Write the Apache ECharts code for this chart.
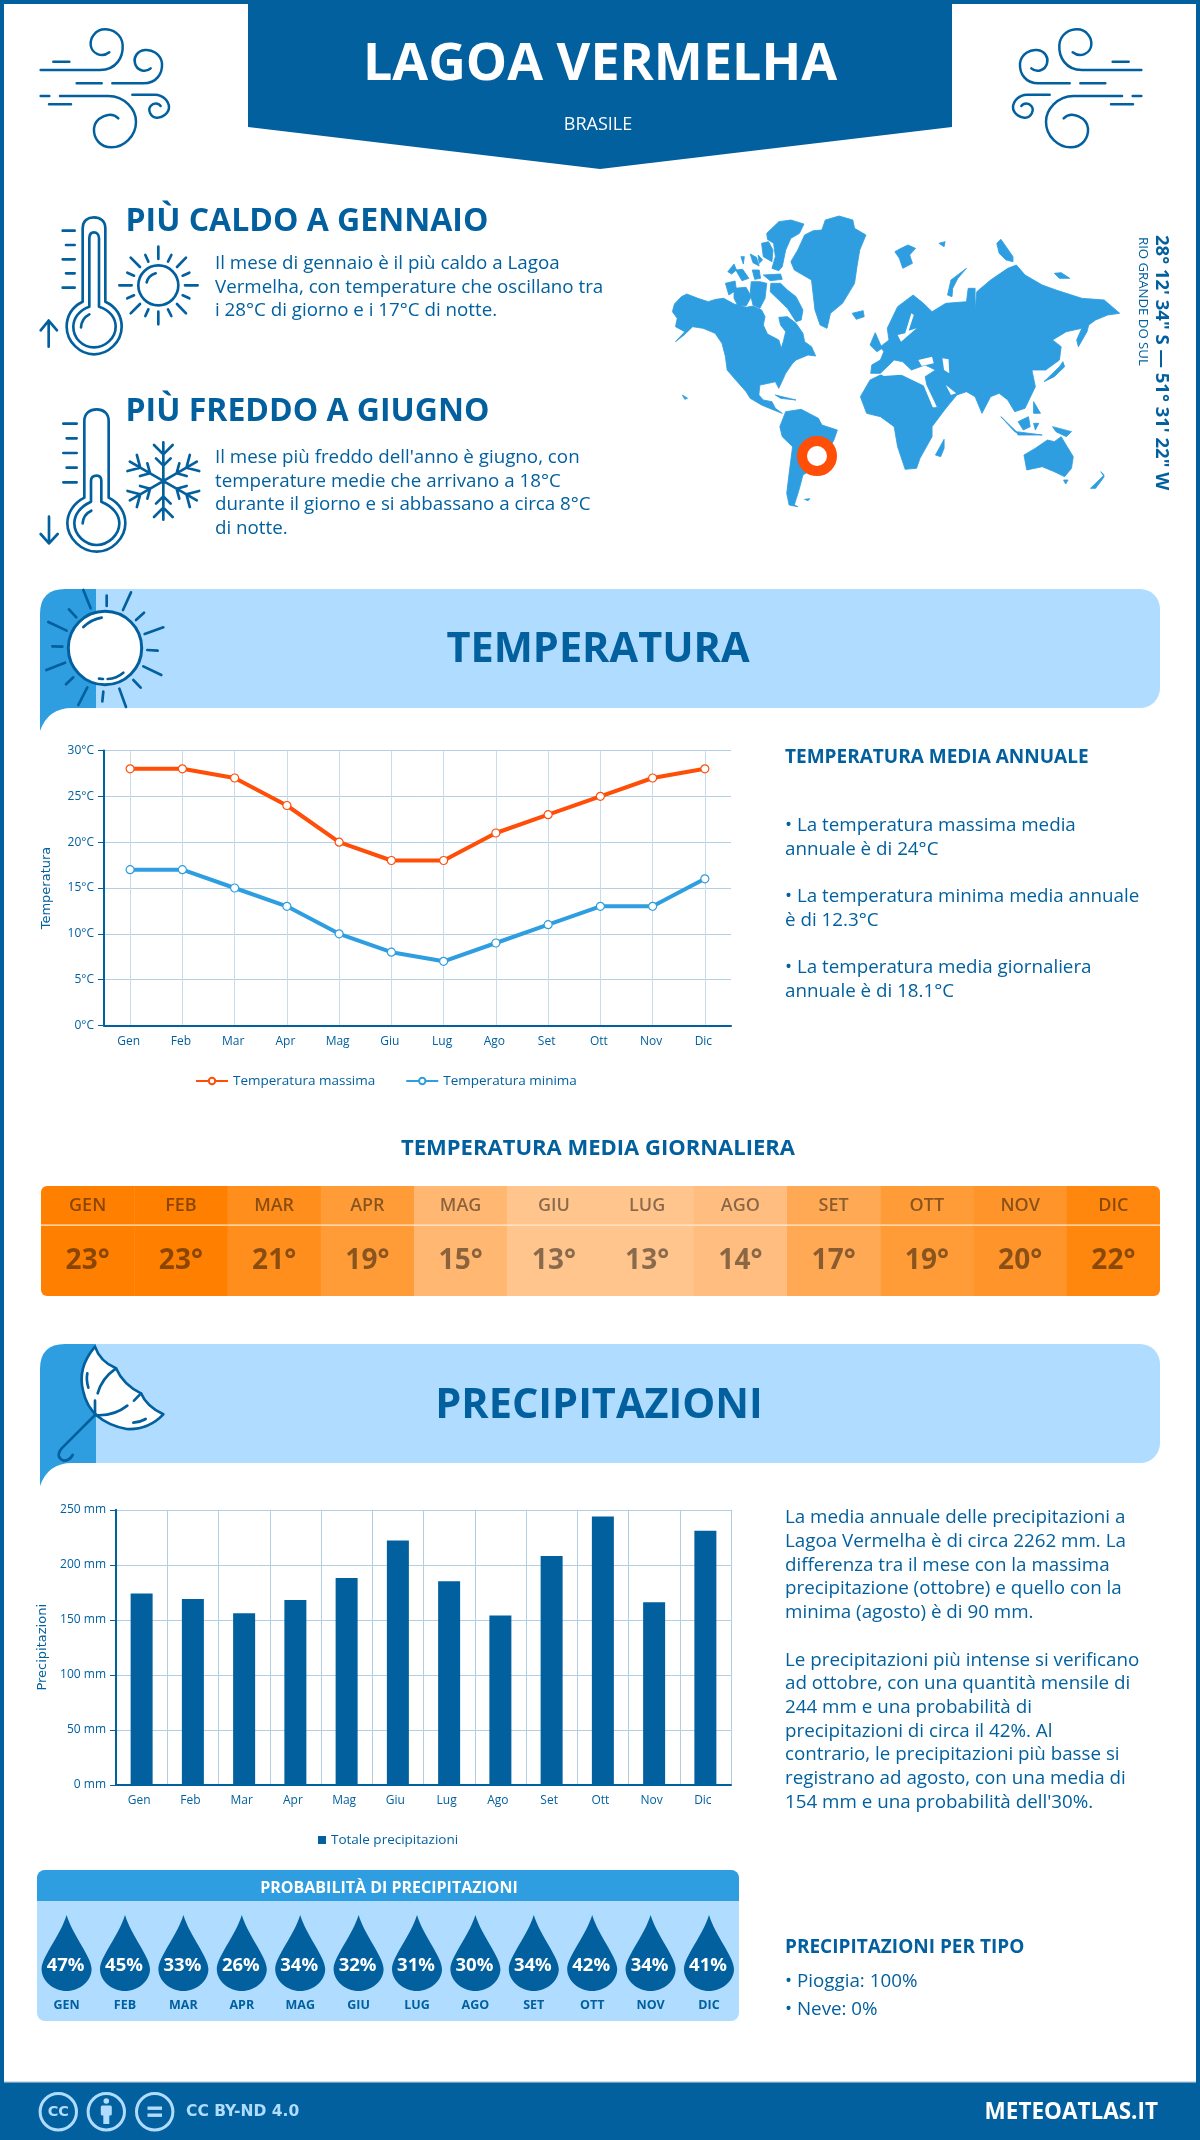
<!DOCTYPE html>
<html>
<head>
<meta charset="utf-8">
<style>html,body{margin:0;padding:0;background:#fff}#c{width:1200px;height:2140px}</style>
<script src="https://cdn.jsdelivr.net/npm/echarts@6/dist/echarts.min.js"></script>
</head>
<body>
<div id="c"></div>
<script>
const months = ['Gen','Feb','Mar','Apr','Mag','Giu','Lug','Ago','Set','Ott','Nov','Dic'];
const monthsUpper = ['GEN','FEB','MAR','APR','MAG','GIU','LUG','AGO','SET','OTT','NOV','DIC'];
const tempMax = [28,28,27,24,20,18,18,21,23,25,27,28];
const tempMin = [17,17,15,13,10,8,7,9,11,13,13,16];
const tempAvg = [23,23,21,19,15,13,13,14,17,19,20,22];
const precipTotal = [174,169,156,168,188,222,185,154,208,244,166,231];
const precipProb = [47,45,33,26,34,32,31,30,34,42,34,41];

const DARK='#02609f', MID='#2e9ee0', LIGHT='#b0dcff', RED='#ff4e08', GRID='#b3cfe3';
const FONT='"Open Sans"';

let shapeN=0;
function pathEl(d,o){
  const name='p'+(shapeN++);
  echarts.graphic.registerShape(name,echarts.graphic.extendPath(d,{}));
  return Object.assign({type:name,shape:{}},o);
}
function strokeIcon(d,ox,oy,lw,color,sx,sy,z){
  return pathEl(d,{x:ox,y:oy,scaleX:sx===undefined?1/3:sx,scaleY:sy===undefined?1/3:sy,z:z||5,
    style:{fill:'none',stroke:color||DARK,lineWidth:lw,lineCap:'round',lineJoin:'round'}});
}
function fillIcon(d,ox,oy,fill,sx,sy,z,stroke,lw){
  return pathEl(d,{x:ox,y:oy,scaleX:sx===undefined?1/3:sx,scaleY:sy===undefined?1/3:sy,z:z||5,
    style:{fill:fill,stroke:stroke||null,lineWidth:lw||0,lineJoin:'round'}});
}
function txt(x,y,text,size,weight,color,align,extra){
  return Object.assign({type:'text',x:x,y:y,z:6,style:{text:text,fontFamily:FONT,fontSize:size,fontWeight:weight,fill:color||DARK,
    textAlign:align||'left',textVerticalAlign:'middle'}},extra||{});
}
function block(x,y,lines,lh,size){
  return lines.map((l,i)=>txt(x,y+i*lh,l,size,400,DARK));
}
function segs(a){return a.map(s=>'M'+s[0]+','+s[1]+' L'+s[2]+','+s[3]).join(' ');}

const windD='M32,150 L210,150 C260,150 280,110 278,75 C275,40 245,28 225,28 C195,28 180,55 182,75 C185,100 215,115 238,97 '+
 'M70,125 L118,125 M140,190 L215,190 '+
 'M247,190 L340,190 C380,190 398,160 396,130 C392,100 365,88 345,90 C320,92 310,115 315,130 C320,150 345,160 362,145 '+
 'M32,228 L58,228 '+
 'M90,228 L235,228 C285,228 318,270 318,305 C318,350 280,382 245,382 C210,382 190,355 192,325 C195,295 240,270 265,295 '+
 'M57,253 L123,253 '+
 'M307,224 L375,224 C400,224 417,245 417,262 C417,280 395,295 380,293 C362,292 352,270 362,258 C370,248 385,248 392,258';

const hotD='M158,290 L158,70 C158,45 175,37 192,37 C210,37 226,48 226,70 L226,290 C260,305 275,335 275,365 C275,410 235,448 192,448 C150,448 110,410 110,365 C110,335 125,305 158,290Z '+
 'M178,305 L178,100 C178,85 185,82 192,82 C200,82 207,88 207,100 L207,305 C240,315 257,340 257,365 C257,400 225,427 192,427 C158,427 130,400 130,365 C130,340 148,315 178,305Z '+
 'M153,367 Q155,340 178,328 '+
 segs([[98,77,134,77],[108,120,134,120],[98,163,134,163],[108,205,134,205],[98,248,134,248],[56,425,56,347],[32,376,56,347],[81,376,56,347]])+' '+
 'M325,241 A60,60 0 1 1 445,241 A60,60 0 1 1 325,241 Z M350,232 Q355,212 377,205 '+
 segs([[385,125,385,162],[385,320,385,358],[268,241,305,241],[465,241,503,241],[302,158,330,186],[468,158,441,186],[302,325,330,297],[468,325,441,297],
       [346,150,355,170],[424,150,414,170],[292,203,312,212],[478,203,458,212],[292,280,312,271],[478,280,458,271],[346,333,355,313],[424,333,414,313]]);

function flakeArms(){
  const cx=400,cy=258,base=[[0,-116,0,116],[-28,-108,0,-80],[28,-108,0,-80],[-22,-68,0,-46],[22,-68,0,-46],[-28,108,0,80],[28,108,0,80],[-22,68,0,46],[22,68,0,46]];
  let out=[];
  [0,Math.PI/3,-Math.PI/3].forEach(a=>{
    const c=Math.cos(a),s=Math.sin(a);
    base.forEach(b=>out.push([cx+b[0]*c-b[1]*s,cy+b[0]*s+b[1]*c,cx+b[2]*c-b[3]*s,cy+b[2]*s+b[3]*c].map(v=>v.toFixed(1))));
  });
  return segs(out);
}
const coldD='M163,308 L163,78 C163,55 180,43 200,43 C220,43 236,55 236,78 L236,308 C270,325 286,355 286,385 C286,430 245,470 200,470 C155,470 112,430 112,385 C112,355 130,325 163,308Z '+
 'M183,320 L183,258 C183,247 190,242 200,242 C208,242 214,247 214,258 L214,320 C250,335 268,360 268,385 C268,420 235,450 200,450 C165,450 133,420 133,385 C133,360 150,335 183,320Z '+
 'M158,385 Q160,358 184,347 '+
 segs([[100,86,140,86],[110,130,140,130],[100,174,140,174],[110,218,140,218],[100,262,140,262],[57,365,57,445],[32,417,57,445],[83,417,57,445]])+' '+flakeArms();

const sunRays=segs([[160,30,182,85],[230,47,230,78],[303,37,279,90],[342,98,318,120],[400,142,344,162],[352,210,383,212],[340,259,394,285],[310,300,332,323],
 [268,326,288,381],[220,335,217,364],[172,322,145,375],[130,292,108,313],[105,248,49,270],[97,200,67,199],[110,152,55,126],[139,112,117,88]])+
 ' M160,141 Q185,118 215,113 M207,296 L219,297 M233,297 Q260,295 280,278';

const umbFill='M195,35 Q140,100 160,170 Q180,260 290,282 Q355,285 400,238 Q350,215 333,175 Q280,150 258,100 Q210,80 195,35Z';
const umbLines='M258,100 Q215,130 203,175 M195,197 L195,240 Q250,245 292,212 M312,197 L333,175 M172,115 Q168,135 175,158 M310,263 Q330,262 347,252 M195,240 L95,340 Q75,365 100,377 Q118,378 128,360';

const bannerD=(t,b,c)=>'M40,'+c+' L40,'+(t+25)+' Q40,'+t+' 65,'+t+' L96,'+t+' L96,'+b+' L72,'+b+' Q48,'+b+' 40,'+c+' Z';

const worldPolys=[
'36,335 42,312 62,290 78,282 110,295 140,305 162,298 185,295 215,312 250,322 270,318 295,330 305,350 300,375 312,402 345,420 352,445 358,425 365,395 350,375 345,352 370,350 395,370 415,400 420,425 440,440 452,468 430,465 395,480 385,490 365,520 345,565 335,545 315,550 290,555 287,585 300,600 325,605 335,625 355,640 330,630 295,615 262,595 250,575 220,540 195,510 190,470 180,430 160,400 125,385 95,380 70,405 45,425 72,395 45,380 50,355',
'310,100 345,65 380,60 418,72 405,100 380,115 365,150 355,200 345,212 325,205 335,170 330,130 312,118',
'322,250 350,250 370,270 395,290 415,330 410,360 395,365 370,325 345,300 320,275',
'295,130 315,125 328,150 325,185 300,170','215,265 250,262 265,290 250,318 225,315 215,295','190,250 218,243 222,270 200,285',
'265,245 290,245 310,250 305,295 290,325 270,315 262,280','300,225 350,222 355,238 320,242','268,210 288,210 292,235 275,238','220,210 240,208 258,235 238,242',
'197,215 215,192 222,210 208,222','262,162 280,172 288,198 270,188','285,165 298,180 288,190','235,170 245,170 242,192',
'380,185 400,150 420,105 445,92 470,90 480,60 520,48 560,60 565,85 598,105 580,150 572,200 565,250 530,310 495,340 485,385 465,375 450,330 440,240 390,210',
'558,340 590,332 593,350 570,358','682,155 700,145 720,135 742,145 725,165 733,190 705,205 695,175','810,130 828,125 825,140',
'835,285 845,240 890,205 865,235 850,265 848,290','978,130 990,118 1005,140 1025,170 1025,185 1005,180 985,160','1145,220 1165,218 1190,235 1160,235',
'615,495 640,480 650,455 640,440 665,420 660,385 690,320 735,285 765,310 790,335 830,310 890,305 895,265 915,265 915,330 920,275 960,240 1010,205 1035,195 1060,225 1110,255 1150,270 1225,295 1290,300 1335,340 1300,345 1265,360 1245,375 1240,395 1215,440 1210,420 1225,385 1180,395 1140,420 1165,440 1160,480 1120,510 1080,510 1090,560 1060,625 1030,635 1010,600 985,580 960,590 935,640 915,590 890,575 862,585 830,625 805,620 775,555 770,530 800,510 770,495 730,510 705,485 680,480 665,495 640,520 612,520',
'610,435 625,398 645,445 630,455','1115,545 1160,500 1170,485 1175,500 1145,530','990,650 1040,700 1030,695','1040,665 1070,650 1075,680 1055,690','1035,695 1110,705 1040,705','1140,680 1195,695 1180,710 1150,695','1085,605 1105,640 1085,640','1085,670 1100,670 1090,690',
'1057,765 1090,745 1125,720 1145,725 1165,710 1200,770 1195,805 1175,830 1145,815 1110,800 1065,810','1172,840 1185,840 1178,852','1250,865 1275,840 1290,825 1280,815 1290,830 1265,865','800,765 825,718 825,745 815,770',
'582,590 610,540 640,525 700,525 750,550 770,560 795,620 830,625 790,680 790,710 755,775 745,805 712,808 690,740 680,680 640,650 600,640',
'348,680 365,635 410,628 460,655 470,675 515,690 505,720 470,790 415,825 405,865 390,915 400,920 375,915 368,880 375,820 385,740 355,710',
'335,585 395,600 350,595','420,898 435,896 430,902','65,585 80,595 72,598'
];
const worldHoles=['712,400 730,340 737,345 722,392 745,385 700,425 690,405','750,480 790,470 795,490 760,498','820,475 838,478 840,520 825,510','765,555 775,560 802,622 792,622','830,555 860,580 845,585','640,522 665,502 690,508 730,520 765,532 700,524 650,528'];
const polyD=a=>a.map(s=>'M'+s.trim().split(' ').join(' L')+' Z').join(' ');

const graphics=[
  {type:'rect',shape:{x:0,y:0,width:4,height:2140},style:{fill:DARK},z:1},
  {type:'rect',shape:{x:1196,y:0,width:4,height:2140},style:{fill:DARK},z:1},
  {type:'rect',shape:{x:0,y:0,width:1200,height:4},style:{fill:DARK},z:1},
  {type:'polygon',shape:{points:[[248,0],[952,0],[952,127],[600,169],[248,127]]},style:{fill:DARK},z:2},
  txt(600,65,'LAGOA VERMELHA',52,700,'#fff','center'),
  txt(598,124.5,'BRASILE',18,400,'#fff','center'),
  strokeIcon(windD,30,20,7.5),
  strokeIcon(windD,1152,20,7.5,DARK,-1/3,1/3),
  strokeIcon(hotD,30,205,8),
  strokeIcon(coldD,30,395,8),
  txt(125.5,222,'PIÙ CALDO A GENNAIO',32,700,DARK),
  txt(125.5,412,'PIÙ FREDDO A GIUGNO',32,700,DARK),
  ...block(215,263.5,['Il mese di gennaio è il più caldo a Lagoa','Vermelha, con temperature che oscillano tra','i 28°C di giorno e i 17°C di notte.'],23.7,18.75),
  ...block(215,457.5,["Il mese più freddo dell'anno è giugno, con",'temperature medie che arrivano a 18°C','durante il giorno e si abbassano a circa 8°C','di notte.'],23.7,18.75),
  fillIcon(polyD(worldPolys),660,200,MID,1/2.904,1/3,3,MID,2.5),
  fillIcon(polyD(worldHoles),660,200,'#fff',1/2.904,1/3,3),
  {type:'circle',shape:{cx:817,cy:456,r:15},style:{fill:'#fff',stroke:RED,lineWidth:10},z:4},
  txt(1161,235,'28° 12\' 34" S — 51° 31\' 22" W',18.5,700,DARK,'left',{rotation:-Math.PI/2}),
  txt(1143,237,'RIO GRANDE DO SUL',13.2,400,DARK,'left',{rotation:-Math.PI/2}),

  {type:'rect',shape:{x:96,y:589,width:1064,height:119,r:[0,20,20,0]},style:{fill:LIGHT},z:1},
  fillIcon(bannerD(589,708,731),0,0,MID,1,1,2),
  {type:'circle',shape:{cx:105,cy:648,r:36.7},style:{fill:'#fff',stroke:DARK,lineWidth:3},z:4},
  strokeIcon(sunRays,30,580,8),
  txt(598,650.5,'TEMPERATURA',41.5,700,DARK,'center'),
  txt(785,758,'TEMPERATURA MEDIA ANNUALE',19,700,DARK),
  ...block(785,826,['• La temperatura massima media','annuale è di 24°C'],23.3,18.8),
  ...block(785,897,['• La temperatura minima media annuale','è di 12.3°C'],23.3,18.8),
  ...block(785,968,['• La temperatura media giornaliera','annuale è di 18.1°C'],23.3,18.8),
  txt(598,1149,'TEMPERATURA MEDIA GIORNALIERA',22,700,DARK,'center'),

  {type:'rect',shape:{x:96,y:1344,width:1064,height:119,r:[0,20,20,0]},style:{fill:LIGHT},z:1},
  fillIcon(bannerD(1344,1463,1486),0,0,MID,1,1,2),
  fillIcon(umbFill,30,1335,'#fff',1/3,1/3,4,DARK,8),
  strokeIcon(umbLines,30,1335,8),
  txt(599,1406,'PRECIPITAZIONI',41.5,700,DARK,'center'),
  ...block(785,1518,['La media annuale delle precipitazioni a','Lagoa Vermelha è di circa 2262 mm. La','differenza tra il mese con la massima','precipitazione (ottobre) e quello con la','minima (agosto) è di 90 mm.','',
    'Le precipitazioni più intense si verificano','ad ottobre, con una quantità mensile di','244 mm e una probabilità di','precipitazioni di circa il 42%. Al','contrario, le precipitazioni più basse si','registrano ad agosto, con una media di','154 mm e una probabilità dell\'30%.'],23.7,18.8),

  {type:'rect',shape:{x:37,y:1870,width:702,height:151,r:8},style:{fill:LIGHT},z:1},
  {type:'rect',shape:{x:37,y:1870,width:702,height:31,r:[8,8,0,0]},style:{fill:MID},z:1},
  txt(389,1888,'PROBABILITÀ DI PRECIPITAZIONI',16,700,'#fff','center'),
  txt(785,1948,'PRECIPITAZIONI PER TIPO',19,700,DARK),
  txt(785,1982,'• Pioggia: 100%',18.8,400,DARK),
  txt(785,2010,'• Neve: 0%',18.8,400,DARK),

  {type:'rect',shape:{x:0,y:2082,width:1200,height:58},style:{fill:DARK},z:3},
  {type:'rect',shape:{x:4,y:2081,width:1192,height:1.5},style:{fill:'#d5dde3'},z:3},
  {type:'circle',shape:{cx:58.3,cy:2111.7,r:18.2},style:{fill:'none',stroke:LIGHT,lineWidth:3},z:4},
  {type:'circle',shape:{cx:106.3,cy:2111.7,r:18.2},style:{fill:'none',stroke:LIGHT,lineWidth:3},z:4},
  {type:'circle',shape:{cx:154.7,cy:2111.7,r:18.2},style:{fill:'none',stroke:LIGHT,lineWidth:3},z:4},
  {type:'text',x:58.3,y:2112,z:6,style:{text:'CC',fontFamily:'DejaVu Sans',fontSize:14.5,fontWeight:700,fill:LIGHT,textAlign:'center',textVerticalAlign:'middle'}},
  {type:'circle',shape:{cx:106.3,cy:2101,r:2.8},style:{fill:LIGHT},z:5},
  {type:'rect',shape:{x:100.8,y:2105.5,width:11,height:10,r:1.5},style:{fill:LIGHT},z:5},
  {type:'rect',shape:{x:103.3,y:2114,width:6,height:10},style:{fill:LIGHT},z:5},
  {type:'rect',shape:{x:147.5,y:2106.5,width:14.5,height:3.4},style:{fill:LIGHT},z:5},
  {type:'rect',shape:{x:147.5,y:2113.5,width:14.5,height:3.4},style:{fill:LIGHT},z:5},
  {type:'text',x:186,y:2112,z:6,style:{text:'CC BY-ND 4.0',fontFamily:'DejaVu Sans',fontSize:15.5,fontWeight:700,fill:LIGHT,textAlign:'left',textVerticalAlign:'middle'}},
  txt(1158,2113,'METEOATLAS.IT',22.5,700,'#fff','right')
];

function heatColor(t){
  const g=Math.round(197+(t-13)*(128-197)/10), b=Math.round(141+(t-13)*(0-141)/10);
  return 'rgb(255,'+g+','+b+')';
}
function renderHeat(params,api){
  const i=api.value(0), c=api.coord([i,0]), s=api.size([1,1]), t=api.value(2);
  const x=c[0]-s[0]/2, y=c[1]-s[1]/2;
  const r=i===0?[6,0,0,6]:(i===11?[0,6,6,0]:0);
  const ink='rgba(0,0,0,0.46)';
  return {type:'group',children:[
    {type:'rect',shape:{x:x,y:y,width:s[0]+(i===11?0:0.5),height:s[1],r:r},style:{fill:heatColor(t)}},
    {type:'rect',shape:{x:x,y:y+38.5,width:s[0]+(i===11?0:0.5),height:1.3},style:{fill:'#ffe9d2'}},
    {type:'text',style:{text:monthsUpper[i],x:x+s[0]/2,y:y+20,fontFamily:FONT,fontSize:18,fontWeight:600,fill:ink,textAlign:'center',textVerticalAlign:'middle'}},
    {type:'text',style:{text:t+'°',x:x+s[0]/2,y:y+75,fontFamily:FONT,fontSize:28,fontWeight:700,fill:ink,textAlign:'center',textVerticalAlign:'middle'}}
  ]};
}

const axisTxt={color:DARK,fontFamily:FONT,fontSize:12};
const dropPath='path://M25,0 C31,20 50,42 50,54 C50,66 38,76 25,76 C12,76 0,66 0,54 C0,42 19,20 25,0Z';

const option={
  animation:false,
  backgroundColor:'#fff',
  textStyle:{fontFamily:FONT},
  graphic:{elements:graphics},
  legend:[
    {data:['Temperatura massima','Temperatura minima'],left:190,top:1069,itemWidth:32,itemHeight:8,itemGap:30,selectedMode:false,
     textStyle:{color:DARK,fontFamily:FONT,fontSize:13.5}},
    {data:['Totale precipitazioni'],left:313,top:1828,icon:'rect',itemWidth:8,itemHeight:8,itemGap:10,selectedMode:false,
     textStyle:{color:DARK,fontFamily:FONT,fontSize:13.5}}
  ],
  grid:[
    {left:104,top:750.5,width:627,height:275},
    {left:116,top:1509.8,width:615,height:275},
    {left:41,top:1186,width:1119,height:110},
    {left:37.4,top:1915,width:700.8,height:76}
  ],
  xAxis:[
    {gridIndex:0,type:'category',data:months,axisLine:{lineStyle:{color:DARK,width:2}},axisTick:{show:false},
     axisLabel:Object.assign({margin:10,padding:[0,3,0,0]},axisTxt),splitLine:{show:true,alignWithLabel:true,lineStyle:{color:'#c6dcea',width:1}}},
    {gridIndex:1,type:'category',data:months,axisLine:{lineStyle:{color:DARK,width:2}},axisTick:{show:false},
     axisLabel:Object.assign({margin:10,padding:[0,5,0,0]},axisTxt),splitLine:{show:true,lineStyle:{color:GRID,width:1}}},
    {gridIndex:2,type:'category',data:monthsUpper,show:false},
    {gridIndex:3,type:'category',data:monthsUpper,z:6,axisLine:{show:false},axisTick:{show:false},
     axisLabel:{margin:8,color:DARK,fontFamily:FONT,fontSize:12.5,fontWeight:700}}
  ],
  yAxis:[
    {gridIndex:0,type:'value',min:0,max:30,interval:5,name:'Temperatura',nameLocation:'middle',nameGap:51,
     nameTextStyle:{color:DARK,fontFamily:'DejaVu Sans',fontSize:13},
     axisLine:{show:true,lineStyle:{color:DARK,width:2}},axisTick:{show:true,length:6,lineStyle:{color:DARK}},
     axisLabel:Object.assign({margin:10,formatter:'{value}°C'},axisTxt),splitLine:{lineStyle:{color:GRID,width:1}}},
    {gridIndex:1,type:'value',min:0,max:250,interval:50,name:'Precipitazioni',nameLocation:'middle',nameGap:59,
     nameTextStyle:{color:DARK,fontFamily:'DejaVu Sans',fontSize:13},
     axisLine:{show:true,lineStyle:{color:DARK,width:2}},axisTick:{show:true,length:6,lineStyle:{color:DARK}},
     axisLabel:Object.assign({margin:10,formatter:'{value} mm'},axisTxt),splitLine:{lineStyle:{color:GRID,width:1}}},
    {gridIndex:2,type:'category',data:['t'],show:false},
    {gridIndex:3,type:'category',data:['p'],show:false}
  ],
  series:[
    {name:'Temperatura massima',type:'line',xAxisIndex:0,yAxisIndex:0,data:tempMax,symbol:'circle',symbolSize:8,showAllSymbol:true,
     lineStyle:{color:RED,width:4},itemStyle:{color:'#fff',borderColor:RED,borderWidth:1.2},z:5},
    {name:'Temperatura minima',type:'line',xAxisIndex:0,yAxisIndex:0,data:tempMin,symbol:'circle',symbolSize:8,showAllSymbol:true,
     lineStyle:{color:MID,width:4},itemStyle:{color:'#fff',borderColor:MID,borderWidth:1.2},z:5},
    {name:'Totale precipitazioni',type:'bar',xAxisIndex:1,yAxisIndex:1,data:precipTotal,barWidth:22,itemStyle:{color:DARK}},
    {name:'Temperatura media',type:'custom',xAxisIndex:2,yAxisIndex:2,data:tempAvg.map((v,i)=>[i,0,v]),renderItem:renderHeat,encode:{x:0,y:1},silent:true},
    {name:'Probabilità',type:'scatter',xAxisIndex:3,yAxisIndex:3,data:precipProb.map((v,i)=>[i,0,v]),symbol:dropPath,symbolSize:[50,76],
     itemStyle:{color:DARK,opacity:1},silent:true,
     label:{show:true,position:'inside',offset:[-1,13],color:'#fff',fontFamily:FONT,fontSize:18.5,fontWeight:700,formatter:p=>p.value[2]+'%'}}
  ]
};
const chart=echarts.init(document.getElementById('c'),null,{width:1200,height:2140,renderer:'canvas',devicePixelRatio:1});
chart.setOption(option);
</script>
</body>
</html>
